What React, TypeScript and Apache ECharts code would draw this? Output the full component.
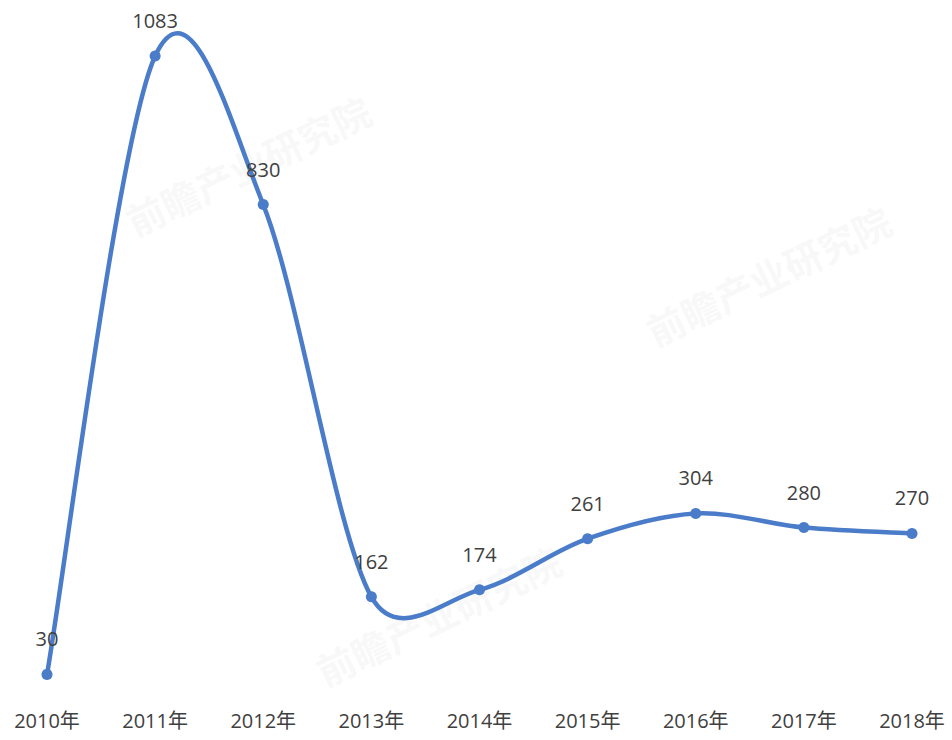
import React, { useEffect, useRef } from "react";
import * as echarts from "echarts";

const categories = ["2010年", "2011年", "2012年", "2013年", "2014年", "2015年", "2016年", "2017年", "2018年"];
const values = [30, 1083, 830, 162, 174, 261, 304, 280, 270];

const LINE_COLOR = "#4a7cc9";

export default function App() {
  const ref = useRef<HTMLDivElement>(null);
  useEffect(() => {
    const chart = echarts.init(ref.current!, null, { renderer: "svg" });
    const wm = (left: number, top: number) => ({
      type: "text",
      left,
      top,
      rotation: Math.PI / 7,
      z: -1,
      style: {
        text: "前瞻产业研究院",
        fill: "rgba(200,200,200,0.13)",
        font: "bold 38px 'Noto Sans CJK SC'",
      },
    });
    const n = values.length;
    chart.setOption({
      animation: false,
      backgroundColor: "#ffffff",
      graphic: [wm(120, 90), wm(310, 540), wm(640, 200)],
      grid: { left: 47, right: 40, top: 46, bottom: 48, containLabel: false },
      xAxis: {
        type: "category",
        data: categories,
        boundaryGap: false,
        axisLine: { show: false },
        axisTick: { show: false },
        axisLabel: {
          color: "#404040",
          fontSize: 20,
          fontFamily: "'Open Sans', 'Noto Sans CJK SC', sans-serif",
          margin: 18,
          interval: 0,
        },
      },
      yAxis: {
        type: "value",
        min: 0,
        max: 1100,
        show: false,
        splitLine: { show: false },
      },
      series: [
        {
          type: "custom",
          clip: false,
          z: 2,
          data: values.slice(0, n - 1).map((v, i) => [i, v]),
          renderItem: (params: any, api: any) => {
            const i = api.value(0);
            const pt = (j: number) => {
              const k = Math.max(0, Math.min(n - 1, j));
              return api.coord([k, values[k]]);
            };
            const p0 = pt(i - 1);
            const p1 = pt(i);
            const p2 = pt(i + 1);
            const p3 = pt(i + 2);
            const seg = Math.hypot(p2[0] - p1[0], p2[1] - p1[1]);
            const clampVec = (dx: number, dy: number) => {
              const len = Math.hypot(dx, dy);
              const maxLen = seg * 0.5;
              if (len > maxLen && len > 0) {
                const s = maxLen / len;
                return [dx * s, dy * s];
              }
              return [dx, dy];
            };
            const t1 = clampVec((p2[0] - p0[0]) / 6, (p2[1] - p0[1]) / 6);
            const t2 = clampVec((p3[0] - p1[0]) / 6, (p3[1] - p1[1]) / 6);
            const c1 = [p1[0] + t1[0], p1[1] + t1[1]];
            const c2 = [p2[0] - t2[0], p2[1] - t2[1]];
            return {
              type: "bezierCurve",
              shape: {
                x1: p1[0], y1: p1[1],
                x2: p2[0], y2: p2[1],
                cpx1: c1[0], cpy1: c1[1],
                cpx2: c2[0], cpy2: c2[1],
              },
              style: { stroke: LINE_COLOR, lineWidth: 4.5, fill: "none", lineCap: "round" },
            };
          },
        },
        {
          type: "line",
          z: 3,
          data: values,
          symbol: "circle",
          symbolSize: 11,
          lineStyle: { width: 0, opacity: 0 },
          itemStyle: { color: LINE_COLOR },
          label: {
            show: true,
            position: "top",
            distance: 20,
            color: "#404040",
            fontSize: 20,
            fontFamily: "'Open Sans', sans-serif",
          },
        },
      ],
    });
    return () => chart.dispose();
  }, []);
  return <div ref={ref} style={{ width: 952, height: 740, position: "absolute", left: 0, top: 0 }} />;
}
